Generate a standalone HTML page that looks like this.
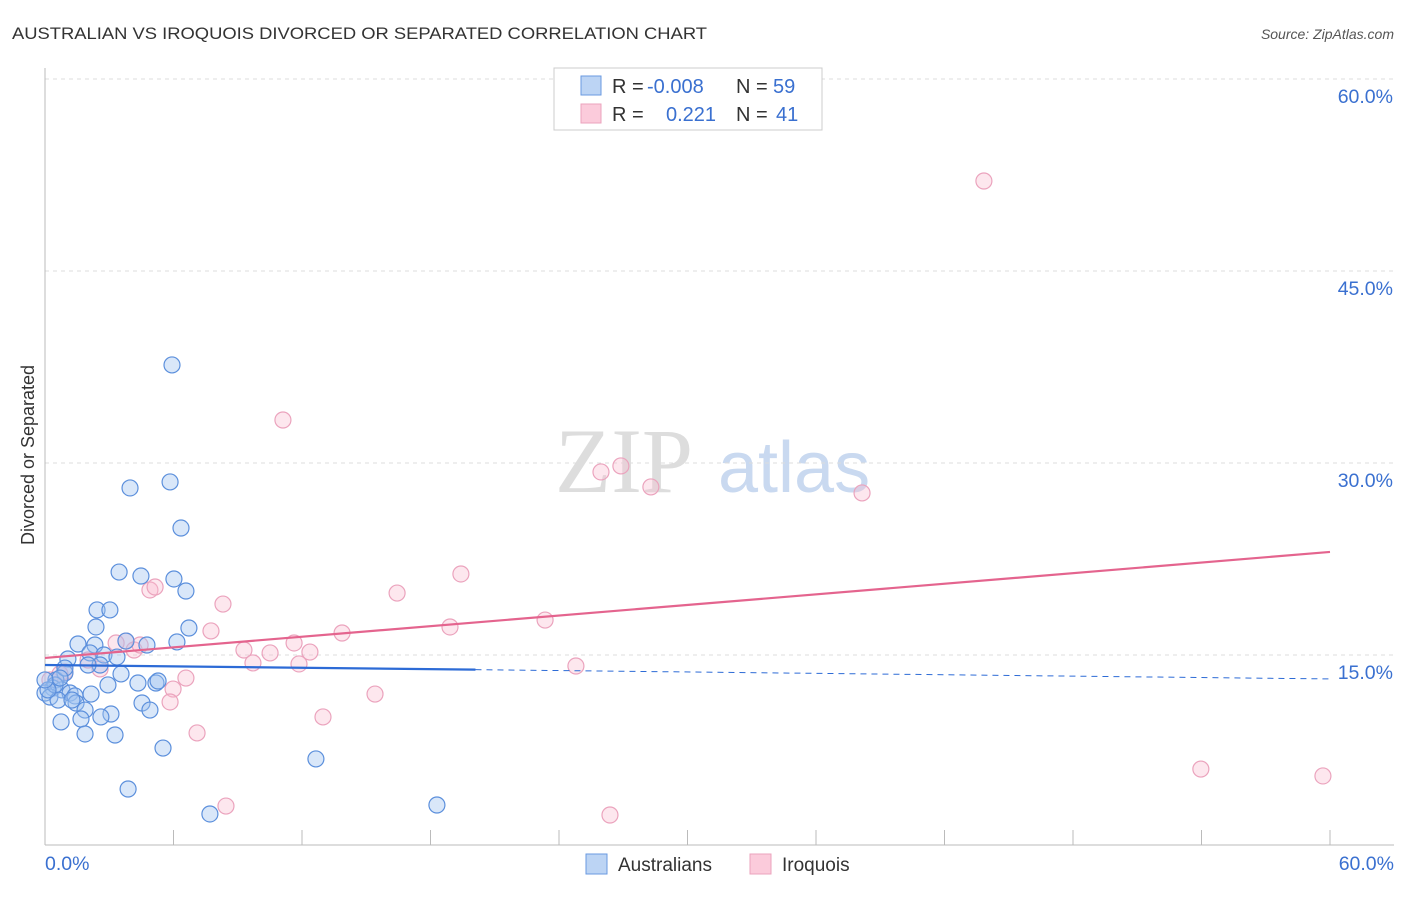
<!DOCTYPE html>
<html><head><meta charset="utf-8"><style>
body{margin:0;background:#fff;font-family:"Liberation Sans",sans-serif;}
</style></head><body>
<svg id="c" width="1406" height="892" xmlns="http://www.w3.org/2000/svg">
<text x="12" y="39" font-size="17" fill="#333" textLength="695" lengthAdjust="spacingAndGlyphs">AUSTRALIAN VS IROQUOIS DIVORCED OR SEPARATED CORRELATION CHART</text>
<text x="1394" y="39" font-size="14" fill="#555" text-anchor="end" font-style="italic">Source: ZipAtlas.com</text>
<text x="555" y="492" font-size="92" fill="#ddd" font-family="Liberation Serif,serif">ZIP</text>
<text x="718" y="492" font-size="72" fill="#c9d9f0">atlas</text>
<text transform="translate(34,455) rotate(-90)" font-size="18" fill="#333" text-anchor="middle">Divorced or Separated</text>
<g id="grid"></g><g id="ticks"></g><g id="marks"></g>
<g>
<rect x="554" y="68" width="268" height="62" fill="#fff" stroke="#ccc"/>
<rect x="581" y="76" width="20" height="19" fill="#bcd4f4" stroke="#6a9ae0"/>
<rect x="581" y="104" width="20" height="19" fill="#fbcbdb" stroke="#eba3bd"/>
<text y="93" font-size="20" fill="#333"><tspan x="612">R =</tspan><tspan x="647" fill="#3a70d0">-0.008</tspan><tspan x="736">N =</tspan><tspan x="773" fill="#3a70d0">59</tspan></text>
<text y="121" font-size="20" fill="#333"><tspan x="612">R =</tspan><tspan fill="#3a70d0" x="666">0.221</tspan><tspan x="736">N =</tspan><tspan fill="#3a70d0" x="776">41</tspan></text>
</g>
<g>
<rect x="586" y="854" width="21" height="20" fill="#bcd4f4" stroke="#6a9ae0"/>
<text x="618" y="871" font-size="19" fill="#333">Australians</text>
<rect x="750" y="854" width="21" height="20" fill="#fbcbdb" stroke="#eba3bd"/>
<text x="782" y="871" font-size="19" fill="#333">Iroquois</text>
</g>
</svg>
<script>
const yTicks=[15,30,45,60];
const xLabels=["0.0%","60.0%"];
const ausX=[5.93,3.97,5.84,6.35,3.46,4.48,6.02,6.58,2.43,3.03,2.38,6.72,3.78,6.16,4.76,1.54,2.33,1.07,2.10,2.75,3.36,2.57,2.01,3.55,0.93,0.51,0.37,0.79,1.17,0,0.23,0.61,1.40,2.15,2.94,4.34,5.18,5.28,1.45,1.87,3.08,1.68,2.61,0.75,4.53,4.90,1.87,3.27,5.51,12.65,3.88,18.30,7.70,0.47,0.14,0.93,1.26,0.70,0];
const ausY=[37.66,28.05,28.52,24.92,21.48,21.17,20.94,20.0,18.52,18.52,17.19,17.11,16.09,16.02,15.78,15.86,15.78,14.69,15.16,15.0,14.84,14.22,14.22,13.52,13.59,13.05,12.42,12.27,12.03,12.03,11.72,11.48,11.8,11.95,12.66,12.81,12.81,12.97,11.25,10.70,10.39,10.0,10.16,9.77,11.25,10.70,8.83,8.75,7.73,6.88,4.53,3.28,2.58,12.66,12.27,13.98,11.48,13.2,13.05];
const iroX=[43.84,11.11,26.89,25.96,28.29,38.15,19.42,16.44,4.90,5.14,8.31,23.35,7.75,18.91,13.87,3.78,3.32,11.63,9.29,10.51,12.37,4.16,9.71,11.86,24.79,2.57,0.93,2.01,6.58,5.98,15.41,5.84,12.98,7.10,53.97,59.67,8.45,26.38,0.23,0.70,4.44];
const iroY=[52.03,33.36,29.77,29.30,28.13,27.66,21.33,19.84,20.08,20.31,18.98,17.73,16.88,17.19,16.72,16.09,15.94,15.94,15.39,15.16,15.23,15.39,14.38,14.30,14.14,13.91,13.67,14.61,13.20,12.34,11.95,11.33,10.16,8.91,6.09,5.55,3.20,2.5,13.05,13.52,15.78];
const ausTrend=[14.22,13.13];
const iroTrend=[14.77,23.05];
const NS="http://www.w3.org/2000/svg";
const X=v=>45+v/60*1285, Y=v=>847-v/15*192;
function mk(t,a,p){const e=document.createElementNS(NS,t);for(const k in a)e.setAttribute(k,a[k]);p.appendChild(e);return e;}
const g=document.getElementById('grid'),tk=document.getElementById('ticks'),m=document.getElementById('marks');
yTicks.forEach(v=>{
const l=mk('line',{x1:45,x2:1394,y1:Y(v),y2:Y(v),stroke:'#ddd','stroke-dasharray':'4,4'},g);


const t=mk('text',{x:1393,y:Y(v)+24,'font-size':19.5,fill:'#3a70d0','text-anchor':'end'},tk);t.textContent=v.toFixed(1)+'%';


});
const ax=mk('line',{x1:45,x2:45,y1:68,y2:845,stroke:'#bbb'},tk);


const bx=mk('line',{x1:45,x2:1394,y1:845,y2:845,stroke:'#bbb'},tk);


for(let i=0;i<=10;i++){const l=mk('line',{x1:X(i*6),x2:X(i*6),y1:830,y2:845,stroke:'#bbb'},tk);

}
const xl0=mk('text',{x:45,y:870,'font-size':19.5,fill:'#3a70d0'},tk);xl0.textContent=xLabels[0];


const xl1=mk('text',{x:1394,y:870,'font-size':19.5,fill:'#3a70d0','text-anchor':'end'},tk);xl1.textContent=xLabels[1];


iroX.forEach((v,i)=>{const c=mk('circle',{cx:X(v),cy:Y(iroY[i]),r:8,fill:'rgba(248,185,207,0.35)',stroke:'#eba3bd','stroke-width':1.2},m);

});
ausX.forEach((v,i)=>{const c=mk('circle',{cx:X(v),cy:Y(ausY[i]),r:8,fill:'rgba(160,196,240,0.4)',stroke:'#5b8fdc','stroke-width':1.2},m);

});
const yb=x=>ausTrend[0]+(ausTrend[1]-ausTrend[0])*x/60;
const t1=mk('line',{x1:X(0),y1:Y(yb(0)),x2:X(20.1),y2:Y(yb(20.1)),stroke:'#2d6bd6','stroke-width':2.2},m);


const t2=mk('line',{x1:X(20.1),y1:Y(yb(20.1)),x2:X(60),y2:Y(yb(60)),stroke:'#2d6bd6','stroke-width':1,'stroke-dasharray':'6,5'},m);


const t3=mk('line',{x1:X(0),y1:Y(iroTrend[0]),x2:X(60),y2:Y(iroTrend[1]),stroke:'#e4648e','stroke-width':2.2},m);


</script>
</body></html>
